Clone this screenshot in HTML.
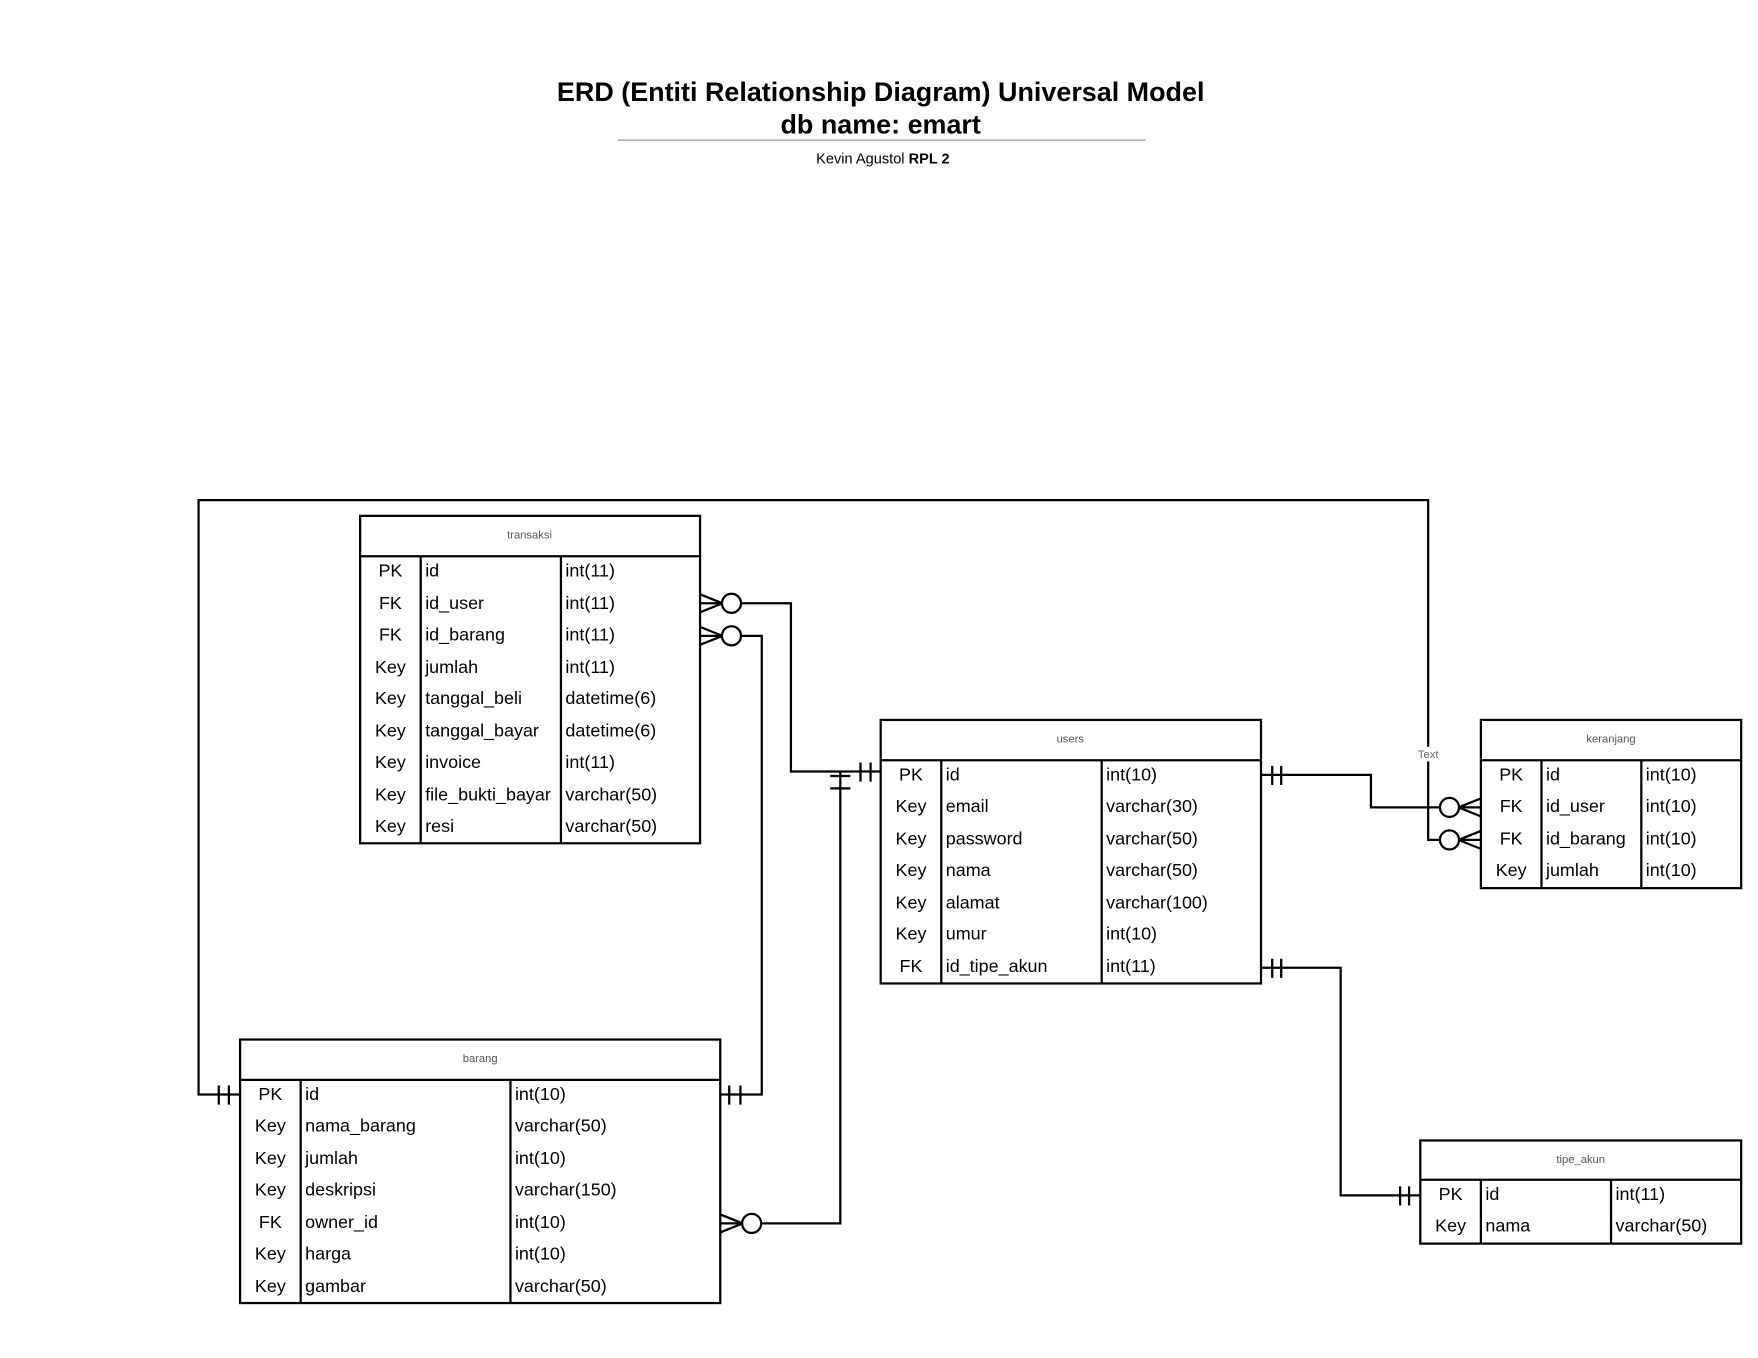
<!DOCTYPE html>
<html><head><meta charset="utf-8"><style>
html,body{margin:0;padding:0;background:#fff;}
svg{display:block;}
text{font-family:"Liberation Sans",Arial,sans-serif;}
.r{font-size:16px;fill:#000;}
.h{font-size:10px;fill:#555;}
.b{fill:none;stroke:#000;stroke-width:2;}
.l{fill:none;stroke:#000;stroke-width:2;}
</style></head><body>
<svg width="1758" height="1358" viewBox="0 0 1567 1211" preserveAspectRatio="none" xmlns="http://www.w3.org/2000/svg">
<rect width="1567" height="1211" fill="#fff"/>
<text x="785" y="90" text-anchor="middle" font-size="24" font-weight="bold">ERD (Entiti Relationship Diagram) Universal Model</text>
<text x="785" y="119" text-anchor="middle" font-size="24" font-weight="bold">db name: emart</text>
<line x1="551" y1="125" x2="1021" y2="125" stroke="#aaa" stroke-width="1.5"/>
<text x="787" y="146" text-anchor="middle" font-size="13">Kevin Agustol <tspan font-weight="bold">RPL 2</tspan></text>

<!-- connectors -->
<g class="l">
<path d="M660 538 H705 V688 H785"/>
<path d="M660 567 H679 V976 H642"/>
<path d="M678 1091 H749 V688"/>
<path d="M214 976 H177 V446 H1273 V749 H1300"/>
<path d="M1124 691 H1222 V720 H1300"/>
<path d="M1124 863 H1195 V1066 H1266"/>
<path d="M767 680 V697 M776 680 V697"/>
<path d="M740 692 H758 M740 703 H758"/>
<path d="M650 968 V985 M660 968 V985"/>
<path d="M195 968 V985 M204 968 V985"/>
<path d="M1134 683 V700 M1142 683 V700"/>
<path d="M1134 855 V872 M1142 855 V872"/>
<path d="M1248 1058 V1075 M1256 1058 V1075"/>
<path d="M624 530 L644 538 L624 546 M624 538 H644"/>
<path d="M624 559 L644 567 L624 575 M624 567 H644"/>
<path d="M642 1083 L662 1091 L642 1099 M642 1091 H662"/>
<path d="M1320 712 L1300 720 L1320 728 M1320 720 H1300"/>
<path d="M1320 741 L1300 749 L1320 757 M1320 749 H1300"/>
</g>
<g fill="#fff" stroke="#000" stroke-width="2">
<circle cx="652" cy="538" r="8.5"/>
<circle cx="652" cy="567" r="8.5"/>
<circle cx="670" cy="1091" r="8.5"/>
<circle cx="1292" cy="720" r="8.5"/>
<circle cx="1292" cy="749" r="8.5"/>
</g>
<rect x="1260" y="666" width="26" height="13" fill="#fff"/>
<text x="1273" y="676" text-anchor="middle" font-size="10" fill="#666">Text</text>

<g>
<rect class="b" x="321" y="460" width="303" height="292"/>
<path class="b" d="M321 496 H624 M375 496 V752 M500 496 V752"/>
<text class="h" x="472" y="480" text-anchor="middle">transaksi</text>
<g class="r">
<text x="348" y="514" text-anchor="middle">PK</text><text x="379" y="514">id</text><text x="504" y="514">int(11)</text>
<text x="348" y="543" text-anchor="middle">FK</text><text x="379" y="543">id_user</text><text x="504" y="543">int(11)</text>
<text x="348" y="571" text-anchor="middle">FK</text><text x="379" y="571">id_barang</text><text x="504" y="571">int(11)</text>
<text x="348" y="600" text-anchor="middle">Key</text><text x="379" y="600">jumlah</text><text x="504" y="600">int(11)</text>
<text x="348" y="628" text-anchor="middle">Key</text><text x="379" y="628">tanggal_beli</text><text x="504" y="628">datetime(6)</text>
<text x="348" y="657" text-anchor="middle">Key</text><text x="379" y="657">tanggal_bayar</text><text x="504" y="657">datetime(6)</text>
<text x="348" y="685" text-anchor="middle">Key</text><text x="379" y="685">invoice</text><text x="504" y="685">int(11)</text>
<text x="348" y="714" text-anchor="middle">Key</text><text x="379" y="714">file_bukti_bayar</text><text x="504" y="714">varchar(50)</text>
<text x="348" y="742" text-anchor="middle">Key</text><text x="379" y="742">resi</text><text x="504" y="742">varchar(50)</text>
</g></g>

<g>
<rect class="b" x="785" y="642" width="339" height="235"/>
<path class="b" d="M785 678 H1124 M839 678 V877 M982 678 V877"/>
<text class="h" x="954" y="662" text-anchor="middle">users</text>
<g class="r">
<text x="812" y="696" text-anchor="middle">PK</text><text x="843" y="696">id</text><text x="986" y="696">int(10)</text>
<text x="812" y="724" text-anchor="middle">Key</text><text x="843" y="724">email</text><text x="986" y="724">varchar(30)</text>
<text x="812" y="753" text-anchor="middle">Key</text><text x="843" y="753">password</text><text x="986" y="753">varchar(50)</text>
<text x="812" y="781" text-anchor="middle">Key</text><text x="843" y="781">nama</text><text x="986" y="781">varchar(50)</text>
<text x="812" y="810" text-anchor="middle">Key</text><text x="843" y="810">alamat</text><text x="986" y="810">varchar(100)</text>
<text x="812" y="838" text-anchor="middle">Key</text><text x="843" y="838">umur</text><text x="986" y="838">int(10)</text>
<text x="812" y="867" text-anchor="middle">FK</text><text x="843" y="867">id_tipe_akun</text><text x="986" y="867">int(11)</text>
</g></g>

<g>
<rect class="b" x="1320" y="642" width="232" height="150"/>
<path class="b" d="M1320 678 H1552 M1374 678 V792 M1463 678 V792"/>
<text class="h" x="1436" y="662" text-anchor="middle">keranjang</text>
<g class="r">
<text x="1347" y="696" text-anchor="middle">PK</text><text x="1378" y="696">id</text><text x="1467" y="696">int(10)</text>
<text x="1347" y="724" text-anchor="middle">FK</text><text x="1378" y="724">id_user</text><text x="1467" y="724">int(10)</text>
<text x="1347" y="753" text-anchor="middle">FK</text><text x="1378" y="753">id_barang</text><text x="1467" y="753">int(10)</text>
<text x="1347" y="781" text-anchor="middle">Key</text><text x="1378" y="781">jumlah</text><text x="1467" y="781">int(10)</text>
</g></g>

<g>
<rect class="b" x="214" y="927" width="428" height="235"/>
<path class="b" d="M214 963 H642 M268 963 V1162 M455 963 V1162"/>
<text class="h" x="428" y="947" text-anchor="middle">barang</text>
<g class="r">
<text x="241" y="981" text-anchor="middle">PK</text><text x="272" y="981">id</text><text x="459" y="981">int(10)</text>
<text x="241" y="1009" text-anchor="middle">Key</text><text x="272" y="1009">nama_barang</text><text x="459" y="1009">varchar(50)</text>
<text x="241" y="1038" text-anchor="middle">Key</text><text x="272" y="1038">jumlah</text><text x="459" y="1038">int(10)</text>
<text x="241" y="1066" text-anchor="middle">Key</text><text x="272" y="1066">deskripsi</text><text x="459" y="1066">varchar(150)</text>
<text x="241" y="1095" text-anchor="middle">FK</text><text x="272" y="1095">owner_id</text><text x="459" y="1095">int(10)</text>
<text x="241" y="1123" text-anchor="middle">Key</text><text x="272" y="1123">harga</text><text x="459" y="1123">int(10)</text>
<text x="241" y="1152" text-anchor="middle">Key</text><text x="272" y="1152">gambar</text><text x="459" y="1152">varchar(50)</text>
</g></g>

<g>
<rect class="b" x="1266" y="1017" width="286" height="92"/>
<path class="b" d="M1266 1052 H1552 M1320 1052 V1109 M1436 1052 V1109"/>
<text class="h" x="1409" y="1037" text-anchor="middle">tipe_akun</text>
<g class="r">
<text x="1293" y="1070" text-anchor="middle">PK</text><text x="1324" y="1070">id</text><text x="1440" y="1070">int(11)</text>
<text x="1293" y="1098" text-anchor="middle">Key</text><text x="1324" y="1098">nama</text><text x="1440" y="1098">varchar(50)</text>
</g></g>
</svg>
</body></html>
